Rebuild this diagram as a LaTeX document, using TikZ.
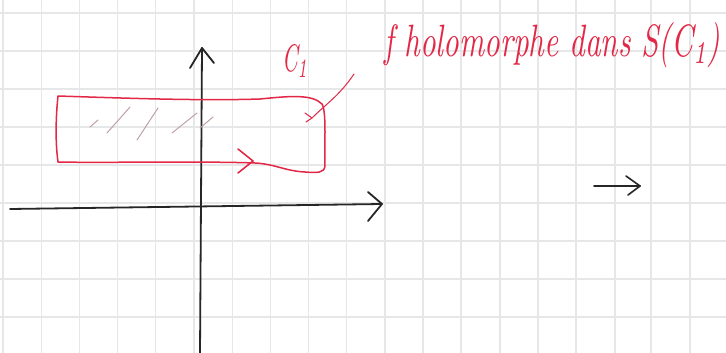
\documentclass[tikz,border=0pt]{standalone}
\usepackage{tikz}
\definecolor{gridc}{RGB}{230,231,233}
\definecolor{penred}{RGB}{226,40,70}
\definecolor{hatchc}{RGB}{190,160,165}
\tikzset{
  gridline/.style={draw=gridc, line width=1.2pt},
  axis/.style={draw=black!85, line width=1.8pt, line cap=round, line join=round},
  redpen/.style={draw=penred, line width=1.5pt, line cap=round, line join=round},
  hatch/.style={draw=hatchc, line width=1pt, line cap=round},
  handtext/.style={text=penred, inner sep=0pt, font=\itshape},
}
\begin{document}
\begin{tikzpicture}[x=1pt,y=-1pt]
\useasboundingbox (0,0) rectangle (726,353);
\fill[white] (0,0) rectangle (726,353);
% grid
\foreach \gx in {3,41.2,79.4,117.6,155.8,194,232.2,270.4,308.6,346.8,385,423,461,500,538,576,615,651,690}
  \draw[gridline] (\gx,0) -- (\gx,353);
\foreach \gy in {13,51,89,127,165,203,241,279,317}
  \draw[gridline] (0,\gy) -- (726,\gy);
% axes
\coordinate (xl) at (10,209);
\coordinate (xr) at (382,204);
\coordinate (yb) at (200,353);
\coordinate (yt) at (202,48);
\draw[axis] (xl) -- (xr);
\draw[axis] (368,192) -- (xr) -- (368,221);
\draw[axis] (yb) -- (yt);
\draw[axis] (190,68) -- (yt) -- (214,63);
% hatching
\draw[hatch] (90,127) -- (98,120);
\draw[hatch] (107,133) -- (130,107);
\draw[hatch] (137,140) -- (158,108);
\draw[hatch] (172,133) -- (197,113);
\draw[hatch] (200,128) -- (213,117);
% contour C1
\draw[redpen] (58,96) .. controls (120,98) and (200,101) .. (260,99)
  .. controls (290,96) and (312,94) .. (322,104)
  .. controls (327,112) and (324,150) .. (325,166)
  .. controls (324,173) and (318,173) .. (305,172)
  .. controls (285,171) and (275,164) .. (255,163)
  .. controls (200,161) and (100,163) .. (58,162)
  .. controls (55,140) and (56,115) .. (58,96) -- cycle;
\coordinate (atip) at (253,161);
\draw[redpen] (238,149) -- (atip) -- (238,173);
% label C1 and leader
\node[handtext] (c1) at (295,61) {\resizebox{26pt}{27pt}{C\textsubscript{1}}};
\coordinate (ls) at (354,74);
\coordinate (le) at (312,118);
\draw[redpen, line width=1pt] (ls) .. controls (340,95) and (325,105) .. (le);
\draw[redpen, line width=1pt] (305,113) -- (le) -- (306,122);
% text
\node[handtext, anchor=west] (txt) at (384,45) {\resizebox{336pt}{34pt}{f holomorphe dans S(C\textsubscript{1})}};
% right arrow
\coordinate (ra) at (594,186);
\coordinate (rb) at (640,186);
\draw[axis, line width=1.6pt] (ra) -- (rb);
\draw[axis, line width=1.6pt] (626,176) -- (rb) -- (628,195);
\end{tikzpicture}
\end{document}
